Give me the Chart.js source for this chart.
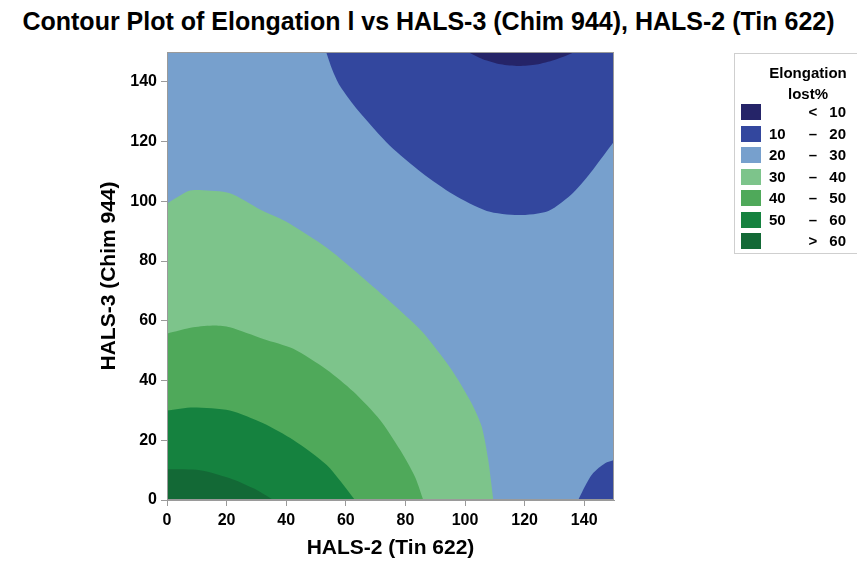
<!DOCTYPE html>
<html><head><meta charset="utf-8">
<script src="https://cdn.jsdelivr.net/npm/chart.js@4/dist/chart.umd.min.js"></script>
<style>
html,body{margin:0;padding:0;background:#fff;}
body{width:857px;height:562px;overflow:hidden;position:relative;font-family:"Liberation Sans",Arial,sans-serif;color:#000;}
#title{position:absolute;left:0;top:7px;width:857px;text-align:center;font-weight:bold;font-size:25px;line-height:29px;white-space:nowrap;}
#c{position:absolute;left:0;top:0;}
#legend{position:absolute;left:734px;top:53px;width:130px;height:201px;border:1px solid #cfcfcf;box-sizing:border-box;font-weight:bold;font-size:15px;}
#legend .lt{position:absolute;left:0;width:146px;text-align:center;line-height:18px;}
#legend .sw{position:absolute;left:6px;width:20px;height:16px;}
#legend .lo{position:absolute;left:34px;line-height:16px;}
#legend .sy{position:absolute;left:68px;width:20px;text-align:center;line-height:16px;}
#legend .hi{position:absolute;left:85px;width:26px;text-align:right;line-height:16px;}
</style></head>
<body>
<div id="title">Contour Plot of Elongation l vs HALS-3 (Chim 944), HALS-2 (Tin 622)</div>
<canvas id="c" width="857" height="562"></canvas>
<div id="legend"></div>
<script>
// ---- data (data units) ----
const xTicks = [0, 20, 40, 60, 80, 100, 120, 140];
const yTicks = [0, 20, 40, 60, 80, 100, 120, 140];
const legendTitle = ['Elongation', 'lost%'];
const legendLow  = ['', '10', '20', '30', '40', '50', ''];
const legendSym  = ['<', '–', '–', '–', '–', '–', '>'];
const legendHigh = ['10', '20', '30', '40', '50', '60', '60'];

// contour level boundaries
const lt10_x = [101, 106, 112, 118, 124, 130, 137];
const lt10_y = [150, 147.6, 145.9, 145.3, 145.8, 147.3, 150];

const top10_x = [53.4, 55.5, 58, 64.2, 74.8, 85.5, 96.1, 107.3, 117.9, 128, 136.3, 143, 150];
const top10_y = [150, 144, 138.7, 130.3, 118.6, 109.6, 102.3, 96.8, 95.4, 96.8, 102.9, 110.7, 120];

const br10_x = [138, 140.5, 143, 147, 150];
const br10_y = [0, 5, 9, 12.3, 13.4];

const b30_x = [0, 7.2, 11, 21.1, 31.2, 39.6, 53.6, 62.5, 74.8, 85.5, 95.5, 102.2, 105.6, 107.8, 109.5];
const b30_y = [99.3, 103.5, 103.8, 102.7, 97.3, 93.4, 84.5, 77.2, 66.5, 56.5, 43.6, 32.4, 24.6, 13.4, 0];

const b40_x = [0, 8.8, 16.1, 21.1, 32.3, 42.4, 53.6, 62.5, 71.5, 78.2, 83.2, 86];
const b40_y = [55.7, 57.8, 58.4, 57.8, 53.9, 50.6, 43.6, 36.3, 26.8, 16.8, 7.8, 0];

const b50_x = [0, 8.8, 21.1, 32.3, 42.4, 53.6, 63.1];
const b50_y = [30, 31, 30, 25.7, 20.1, 11.7, 0];

const b60_x = [0, 11, 21.1, 29, 35.7];
const b60_y = [10.3, 10, 7.3, 3.9, 0];

// ---- styles ----
const colors = ['#252468', '#33479e', '#77a0cd', '#7dc48b', '#4fa95a', '#15823f', '#136936'];

function pts(xs, ys) { return xs.map((x, i) => ({x: x, y: ys[i]})); }
function ds(xs, ys, color, fill) {
  return {data: pts(xs, ys), backgroundColor: color, borderColor: color, borderWidth: 0,
          pointRadius: 0, fill: fill, tension: 0.25};
}

// legend
const lg = document.getElementById('legend');
legendTitle.forEach((t, i) => {
  const d = document.createElement('div'); d.className = 'lt'; d.textContent = t;
  d.style.top = (10 + i * 21) + 'px'; lg.appendChild(d);
});
legendHigh.forEach((h, i) => {
  const top = 50 + i * 21.5;
  const sw = document.createElement('div'); sw.className = 'sw'; sw.style.top = top + 'px'; sw.style.background = colors[i]; lg.appendChild(sw);
  [['lo', legendLow[i]], ['sy', legendSym[i]], ['hi', h]].forEach(([c, t]) => {
    const e = document.createElement('div'); e.className = c; e.textContent = t; e.style.top = top + 'px'; lg.appendChild(e);
  });
});

const plotBg = {
  id: 'plotBg',
  beforeDatasetsDraw(chart) {
    const a = chart.chartArea, ctx = chart.ctx;
    ctx.save(); ctx.fillStyle = colors[2]; ctx.fillRect(a.left, a.top, a.width, a.height); ctx.restore();
  },
  afterDatasetsDraw(chart) {
    const a = chart.chartArea, ctx = chart.ctx;
    ctx.save(); ctx.strokeStyle = '#9a9a9a'; ctx.lineWidth = 1;
    ctx.strokeRect(a.left + 0.5, a.top + 0.5, a.width - 1, a.height - 1); ctx.restore();
  }
};

const tickFont = {family: '"Liberation Sans", Arial, sans-serif', size: 16, weight: 'bold'};
const titleFont = {family: '"Liberation Sans", Arial, sans-serif', size: 21, weight: 'bold'};

new Chart(document.getElementById('c'), {
  type: 'line',
  data: {
    datasets: [
      ds(b60_x, b60_y, colors[6], 'start'),
      ds(b50_x, b50_y, colors[5], 'start'),
      ds(b40_x, b40_y, colors[4], 'start'),
      ds(b30_x, b30_y, colors[3], 'start'),
      ds(br10_x, br10_y, colors[1], 'start'),
      ds(lt10_x, lt10_y, colors[0], 'end'),
      ds(top10_x, top10_y, colors[1], 'end')
    ]
  },
  options: {
    responsive: false, animation: false, devicePixelRatio: 1,
    layout: {padding: {left: 0, right: 243, top: 52, bottom: 0}},
    plugins: {legend: {display: false}, tooltip: {enabled: false}, title: {display: false}},
    scales: {
      x: {
        type: 'linear', min: 0, max: 150,
        afterFit(s) { s.height = 62; },
        afterBuildTicks(s) { s.ticks = xTicks.map(v => ({value: v})); },
        ticks: {font: tickFont, color: '#000', padding: 5, includeBounds: false, stepSize: 20},
        grid: {drawOnChartArea: false, drawTicks: true, tickLength: 6, color: '#9a9a9a'},
        border: {display: true, color: '#9a9a9a'},
        title: {display: true, text: 'HALS-2 (Tin 622)', font: titleFont, color: '#000', padding: {top: 0, bottom: 1}}
      },
      y: {
        type: 'linear', min: 0, max: 150,
        afterFit(s) { s.width = 167; },
        afterBuildTicks(s) { s.ticks = yTicks.map(v => ({value: v})); },
        ticks: {font: tickFont, color: '#000', padding: 4, includeBounds: false, stepSize: 20},
        grid: {drawOnChartArea: false, drawTicks: true, tickLength: 6, color: '#9a9a9a'},
        border: {display: true, color: '#9a9a9a'},
        title: {display: true, text: 'HALS-3 (Chim 944)', font: titleFont, color: '#000', padding: {top: 97, bottom: 0}}
      }
    }
  },
  plugins: [plotBg]
});
</script>
</body></html>
